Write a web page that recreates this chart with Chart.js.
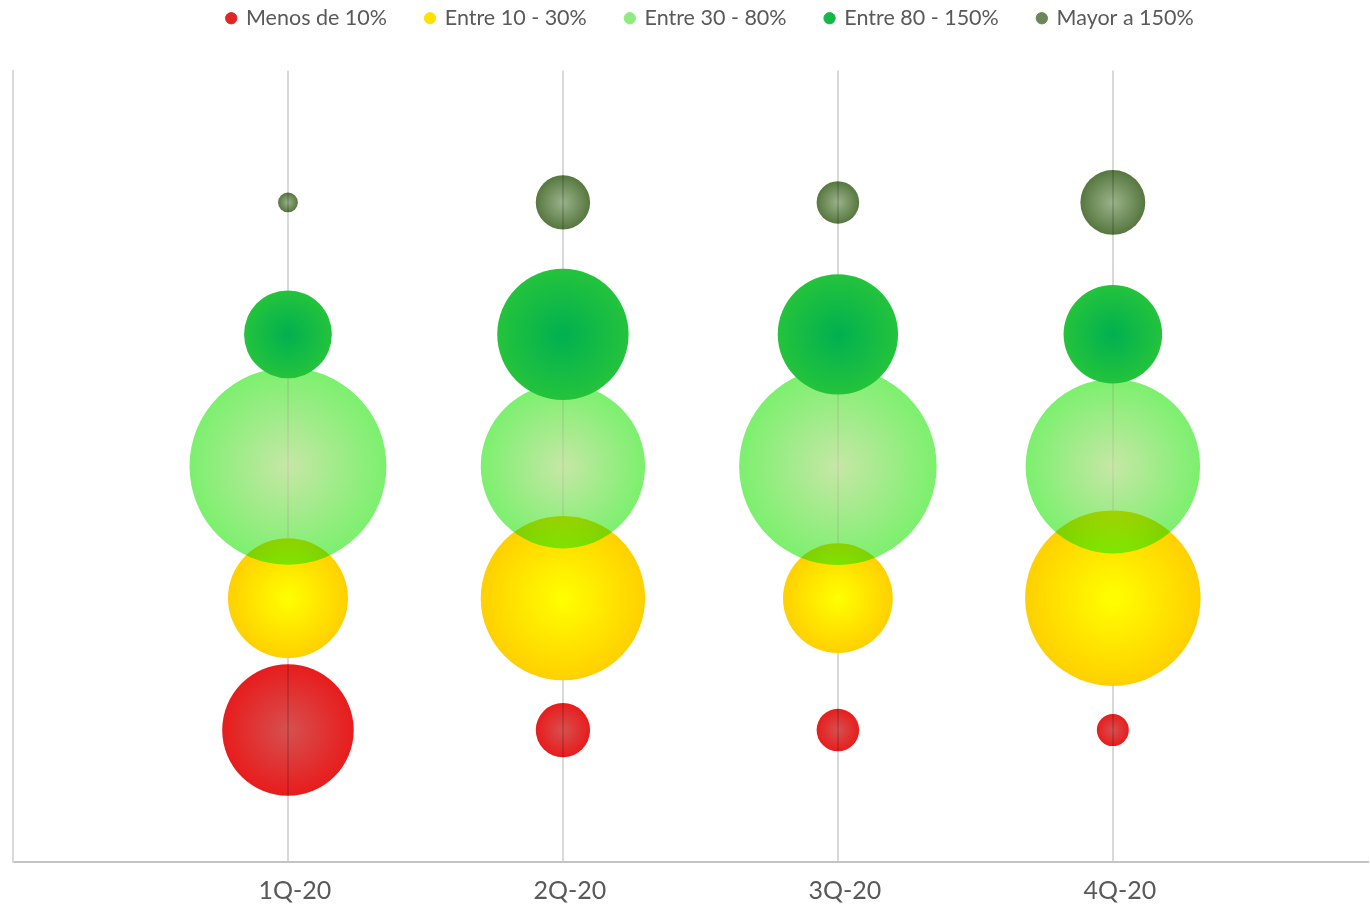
<!DOCTYPE html>
<html>
<head>
<meta charset="utf-8">
<script src="https://cdn.jsdelivr.net/npm/chart.js@4/dist/chart.umd.min.js"></script>
<style>
  html, body { margin: 0; padding: 0; background: #ffffff; }
  #wrap { width: 1370px; height: 904px; position: relative; }
</style>
</head>
<body>
<div id="wrap"><canvas id="c"></canvas></div>
<script>
// ---- data (bubble size = relative area) ----
const categories = ['1Q-20', '2Q-20', '3Q-20', '4Q-20'];
const categoryX = [1, 2, 3, 4];
const seriesNames = ['Menos de 10%', 'Entre 10 - 30%', 'Entre 30 - 80%', 'Entre 80 - 150%', 'Mayor a 150%'];
const seriesY = [1, 2, 3, 4, 5];
const menos10 = [44, 7.5, 4.6, 2.6];
const entre10a30 = [36.6, 68.7, 30.6, 78.3];
const entre30a80 = [98.6, 68.7, 99.2, 77.4];
const entre80a150 = [19.6, 43.9, 36.8, 24.7];
const mayor150 = [1.0, 7.5, 4.6, 10.7];
const seriesValues = [menos10, entre10a30, entre30a80, entre80a150, mayor150];

// ---- styles ----
const gradCenter = ['#d65050', '#ffff00', '#c6e7a6', '#00b050', '#9bb38b'];
const gradEdge   = ['#e81c1c', '#ffd000', '#7cf06e', '#24c33c', '#56773f'];
const legendCol  = ['#e32424', '#ffe100', '#8eec7e', '#14b844', '#688858'];
const blendMode  = { 0: 'multiply', 2: 'darken', 4: 'multiply' };
const textColor = '#595959';
const FONT = 'Lato, "Open Sans", "DejaVu Sans", sans-serif';

const maxV = Math.max(...seriesValues.flat());

function bubbleRadius(ctx) {
  const ca = ctx.chart.chartArea;
  const v = ctx.raw ? ctx.raw.v : 0;
  const base = ca ? Math.min(ca.width, ca.height) : 790;
  return 0.125 * base * Math.sqrt(v / maxV);
}

function bubbleFill(ctx) {
  const i = ctx.datasetIndex;
  const chart = ctx.chart;
  if (ctx.type !== 'data' || !chart.chartArea || !chart.scales.x) return gradEdge[i];
  const x = chart.scales.x.getPixelForValue(ctx.raw.x);
  const y = chart.scales.y.getPixelForValue(ctx.raw.y);
  const r = Math.max(bubbleRadius(ctx), 1);
  const g = chart.ctx.createRadialGradient(x, y, 0, x, y, r);
  g.addColorStop(0, gradCenter[i]);
  g.addColorStop(1, gradEdge[i]);
  return g;
}

const datasets = seriesNames.map((name, i) => ({
  label: name,
  data: categoryX.map((cx, j) => ({ x: cx, y: seriesY[i], v: seriesValues[i][j] })),
  backgroundColor: bubbleFill,
  borderWidth: 0,
  radius: bubbleRadius,
  hoverRadius: 0,
  hoverBorderWidth: 0,
  order: seriesNames.length - 1 - i
}));

const blendPlugin = {
  id: 'blendModes',
  beforeDatasetDraw(chart, args) {
    if (blendMode[args.index]) {
      chart.ctx.save();
      chart.ctx.globalCompositeOperation = blendMode[args.index];
    }
  },
  afterDatasetDraw(chart, args) {
    if (blendMode[args.index]) chart.ctx.restore();
  }
};

const legendGapPlugin = {
  id: 'legendGap',
  beforeLayout(chart) {
    const lg = chart.legend;
    if (lg && !lg._gapPatched) {
      const orig = lg.fit;
      lg.fit = function () { orig.call(this); this.height += 31.5; };
      lg._gapPatched = true;
    }
  },
  afterLayout(chart) {
    const lg = chart.legend;
    if (lg) { lg.left += 20; lg.right += 20; }
  }
};

new Chart(document.getElementById('c'), {
  type: 'bubble',
  data: { datasets },
  plugins: [blendPlugin, legendGapPlugin],
  options: {
    responsive: true,
    maintainAspectRatio: false,
    animation: false,
    layout: { autoPadding: false, padding: { top: -31.5, left: 13, right: 2, bottom: -16 } },
    plugins: {
      tooltip: { enabled: false },
      legend: {
        position: 'top',
        labels: {
          usePointStyle: true,
          boxWidth: 8,
          boxHeight: 8,
          padding: 39,
          color: textColor,
          font: { family: FONT, size: 21.5 },
          generateLabels(chart) {
            return chart.data.datasets.map((ds, i) => ({
              text: ds.label,
              fillStyle: legendCol[i],
              strokeStyle: legendCol[i],
              lineWidth: 1,
              pointStyle: 'circle',
              fontColor: textColor,
              hidden: !chart.isDatasetVisible(i),
              datasetIndex: i
            }));
          },
          sort: (a, b) => a.datasetIndex - b.datasetIndex
        }
      }
    },
    scales: {
      x: {
        type: 'linear',
        min: 0,
        max: 4.928,
        afterBuildTicks(axis) { axis.ticks = categoryX.map(v => ({ value: v })); },
        grid: { display: true, color: '#d9d9d9', lineWidth: 2, drawTicks: false },
        border: { display: true, color: '#c4c4c4', width: 2 },
        ticks: {
          padding: 14,
          labelOffset: 7,
          color: textColor,
          font: { family: FONT, size: 25 },
          callback: (value) => categories[categoryX.indexOf(value)] ?? ''
        }
      },
      y: {
        type: 'linear',
        min: 0,
        max: 6,
        grid: { display: false, drawTicks: false },
        border: { display: true, color: '#d9d9d9', width: 2 },
        ticks: { display: false }
      }
    }
  }
});
</script>
</body>
</html>
